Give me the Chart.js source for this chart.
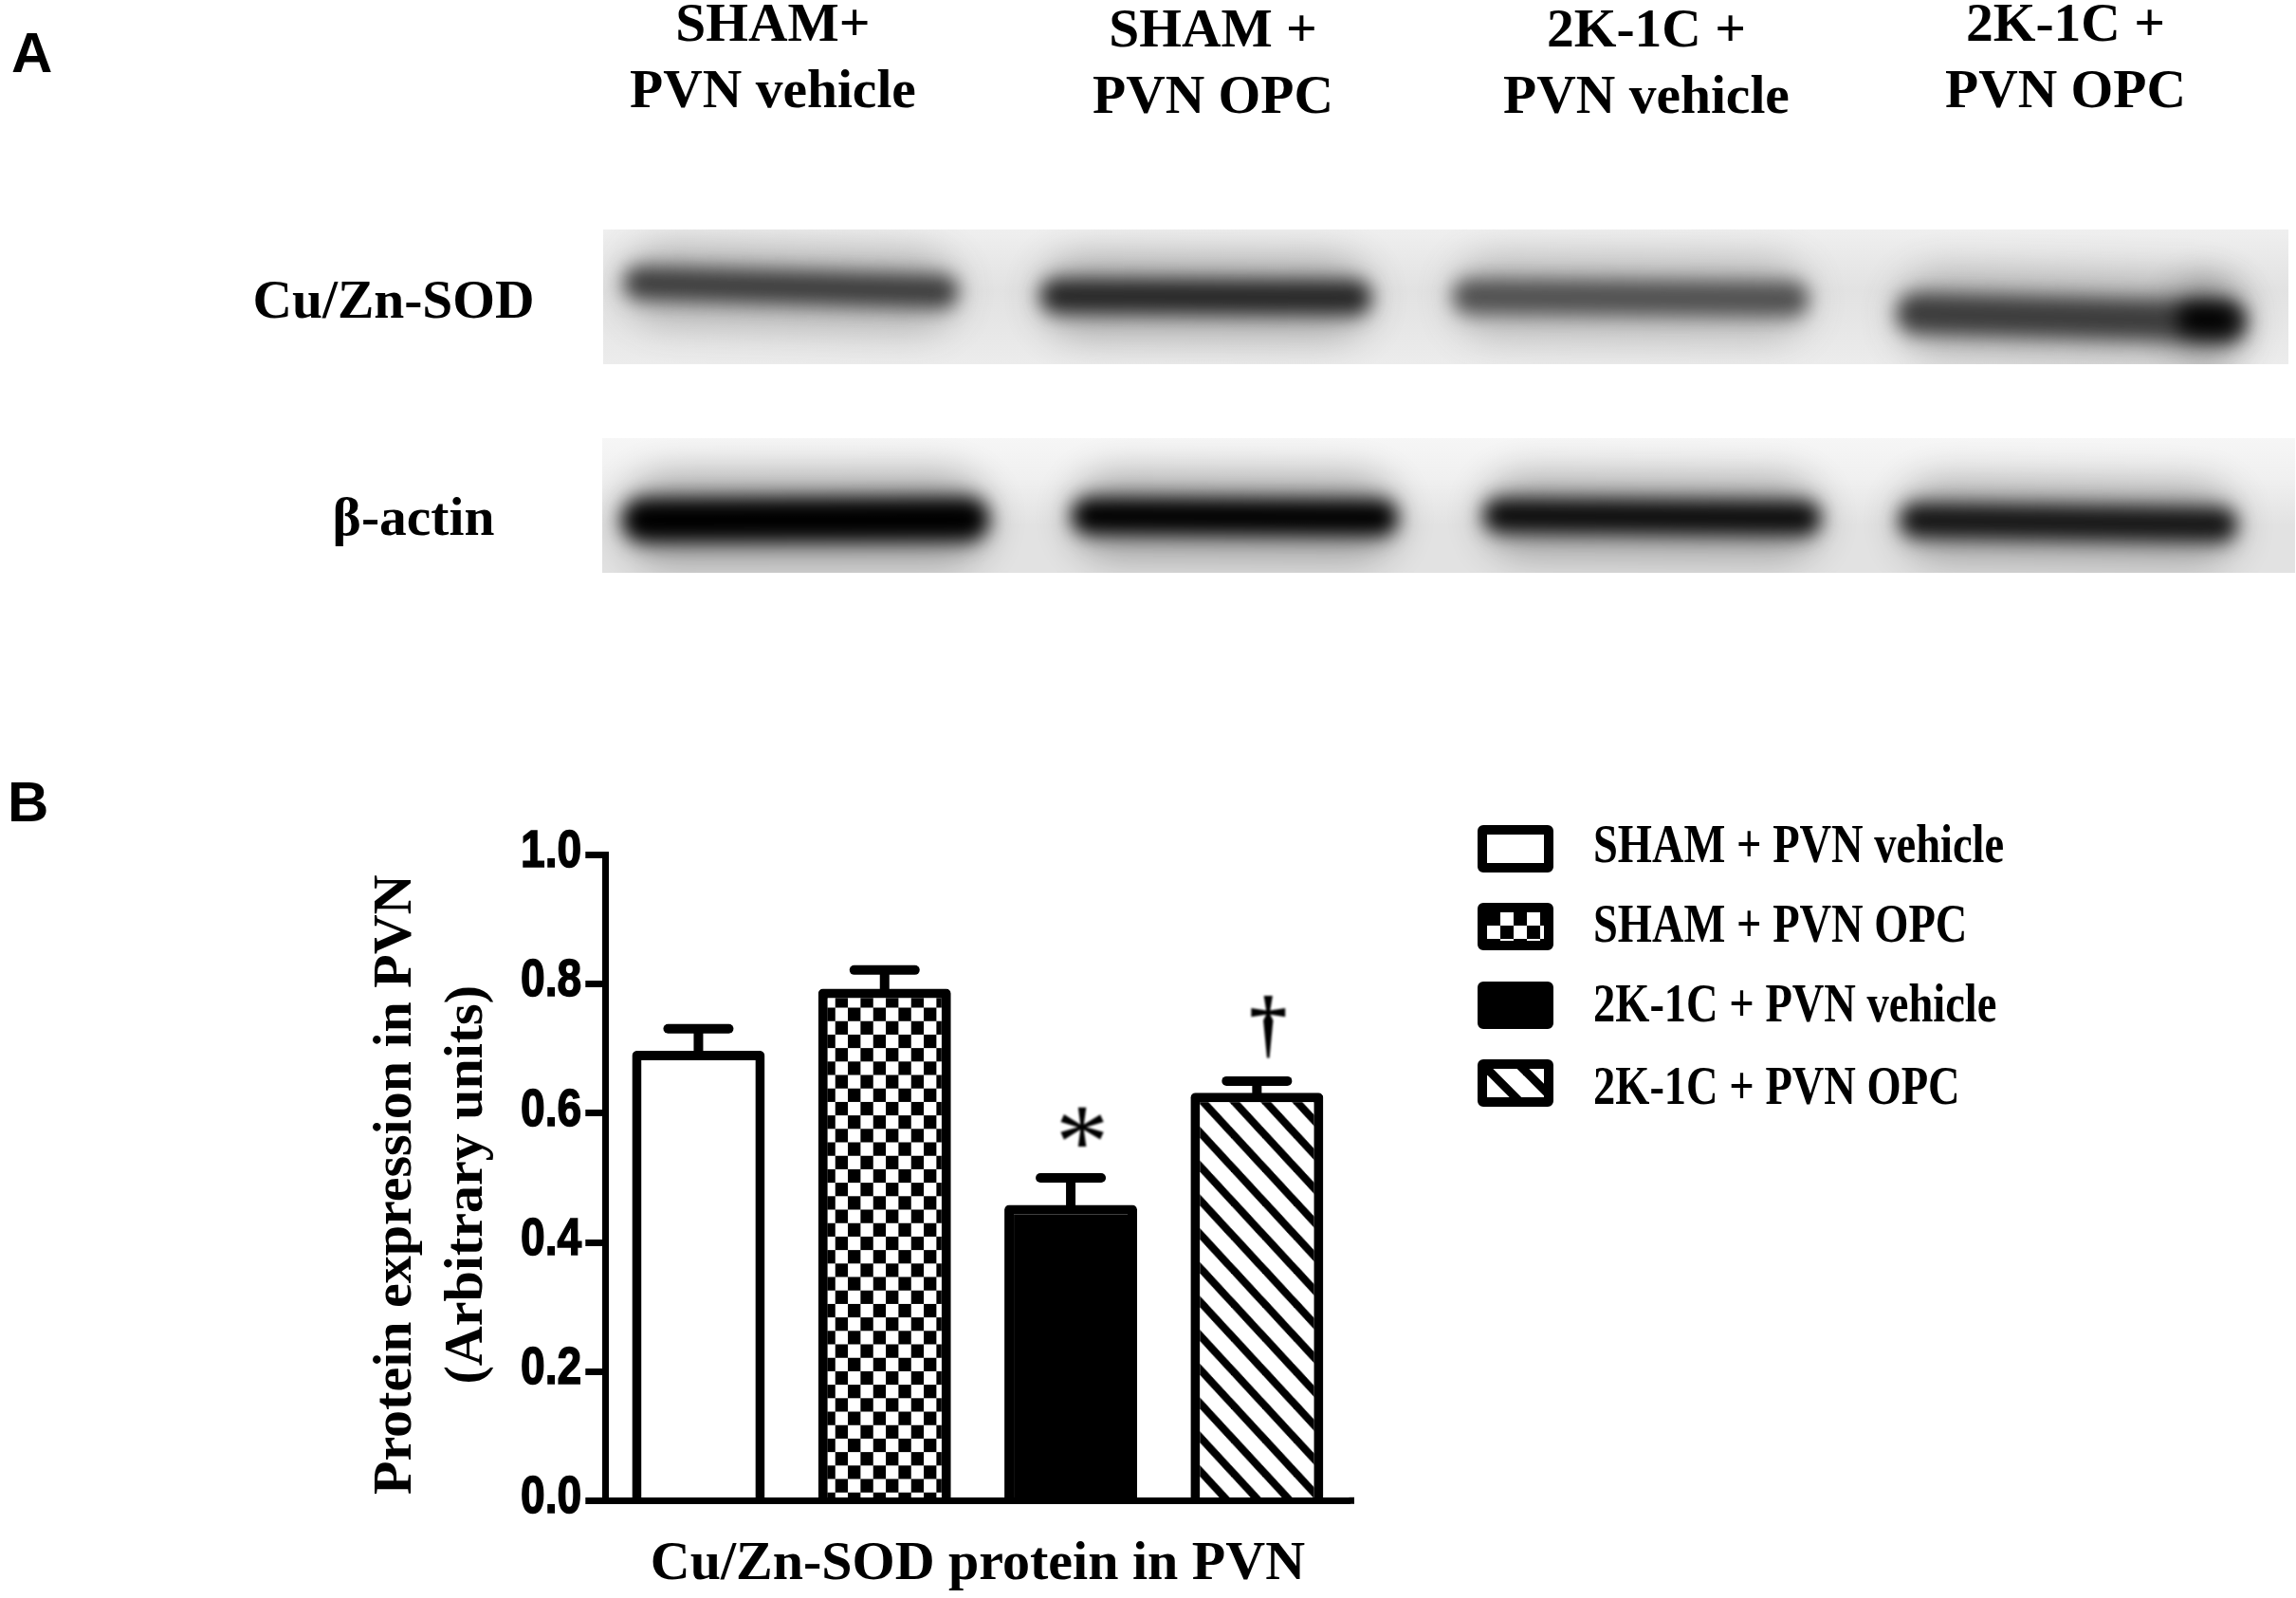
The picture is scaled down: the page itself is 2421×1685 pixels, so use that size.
<!DOCTYPE html>
<html>
<head>
<meta charset="utf-8">
<title>Cu/Zn-SOD protein in PVN</title>
<script src="https://cdn.jsdelivr.net/npm/chart.js@4"></script>
<style>
html,body{margin:0;padding:0;background:#fff;}
#page{position:relative;width:2421px;height:1685px;overflow:hidden;}
#bars{position:absolute;left:0;top:0;}
.txt{position:absolute;white-space:nowrap;color:#000;font:bold 57.5px "Liberation Serif",serif;line-height:1;}
.panel{font:bold 60px "Liberation Sans",sans-serif;line-height:1;}
.mid{transform:translate(-50%,-50%);}
.blot{position:absolute;overflow:hidden;}
.band{position:absolute;border-radius:999px;}
.swatch{position:absolute;box-sizing:border-box;width:80px;height:50px;border:10px solid #000;border-radius:6px;background-color:#fff;}
.leg{font-size:56px;transform:translateY(-50%) scaleX(.83);transform-origin:left center;}
</style>
</head>
<body>
<div id="page">
  <canvas id="bars" width="2421" height="1685"></canvas>
</div>
<script>
/* ===== DATA ===== */
const groups=['SHAM + PVN vehicle','SHAM + PVN OPC','2K-1C + PVN vehicle','2K-1C + PVN OPC'];
const means=[0.697,0.793,0.458,0.632];
const errorTops=[0.731,0.822,0.500,0.650];
const markText=['','','*','†'];
const markValues=[null,null,0.58,0.734];
const yTicks=[0,0.2,0.4,0.6,0.8,1.0];
const laneHeads=[['SHAM+','PVN vehicle'],['SHAM +','PVN OPC'],['2K-1C +','PVN vehicle'],['2K-1C +','PVN OPC']];

/* ===== PATTERNS ===== */
function checkerTile(){
  const c=document.createElement('canvas');c.width=c.height=28;
  const x=c.getContext('2d');
  x.fillStyle='#fff';x.fillRect(0,0,28,28);
  x.fillStyle='#000';x.fillRect(0,0,14,14);x.fillRect(14,14,14,14);
  return c;
}
function hatchTile(){
  const c=document.createElement('canvas');c.width=c.height=38;
  const x=c.getContext('2d');
  x.fillStyle='#fff';x.fillRect(0,0,38,38);
  x.strokeStyle='#000';x.lineWidth=9;
  [-38,0,38].forEach(o=>{x.beginPath();x.moveTo(o-4,-4);x.lineTo(o+42,42);x.stroke();});
  return c;
}
const ctx=document.getElementById('bars').getContext('2d');
const tiles=[null,checkerTile(),null,hatchTile()];
const checkerFill=ctx.createPattern(tiles[1],'repeat');
checkerFill.setTransform(new DOMMatrix().translate(880.7,1076.7).scale(26.67/28,28.4/28));
const hatchFill=ctx.createPattern(tiles[3],'repeat');
hatchFill.setTransform(new DOMMatrix().translate(1265,1515).scale(33/38,35.7/38));
const fills=['#fff',checkerFill,'#000',hatchFill];

/* ===== EXTRAS DRAWN ON THE CHART ===== */
const extras={
  id:'extras',
  beforeDatasetsDraw(chart){
    const {x,y}=chart.scales,c=chart.ctx;
    c.save();
    c.strokeStyle='#000';
    errorTops.forEach((v,i)=>{
      const px=x.getPixelForValue(i),top=y.getPixelForValue(v),base=y.getPixelForValue(means[i]);
      c.lineWidth=10;c.lineCap='butt';
      c.beginPath();c.moveTo(px,base+6);c.lineTo(px,top);c.stroke();
      c.lineCap='round';
      c.beginPath();c.moveTo(px-32,top);c.lineTo(px+32,top);c.stroke();
    });
    c.restore();
  },
  afterDraw(chart){
    const {x,y}=chart.scales,c=chart.ctx,area=chart.chartArea;
    c.save();
    c.fillStyle='#000';c.strokeStyle='#000';
    // baseline runs a little past the last category
    c.fillRect(area.right-1,area.bottom-3.5,5.5,7);
    // condensed tick labels
    c.font='bold 55px "Liberation Sans"';
    c.textAlign='right';c.textBaseline='middle';c.lineWidth=1.5;
    y.ticks.forEach(t=>{
      c.save();
      c.translate(y.right-25,y.getPixelForValue(t.value)-2.5);
      c.scale(.84,1);
      c.fillText(t.value.toFixed(1),0,0);
      c.strokeText(t.value.toFixed(1),0,0);
      c.restore();
    });
    // significance marks
    c.textAlign='center';c.textBaseline='alphabetic';
    c.filter='blur(1px)';
    markText.forEach((t,i)=>{
      if(!t)return;
      c.font=t==='*'?'normal 112px "Liberation Serif"':'bold 80px "Liberation Serif"';
      const m=c.measureText(t);
      c.fillText(t,x.getPixelForValue(i)+12,y.getPixelForValue(markValues[i])+(m.actualBoundingBoxAscent-m.actualBoundingBoxDescent)/2);
    });
    c.restore();
  }
};

/* ===== CHART ===== */
new Chart(ctx,{
  type:'bar',
  data:{labels:groups,datasets:[{
    data:means,
    backgroundColor:fills,
    borderColor:'#000',
    borderWidth:10,
    borderSkipped:'bottom',
    borderRadius:{topLeft:5,topRight:5,bottomLeft:0,bottomRight:0},
    categoryPercentage:1,
    barPercentage:0.713
  }]},
  options:{
    responsive:false,animation:false,devicePixelRatio:1,
    layout:{padding:{left:380,right:997.5,top:901.7,bottom:0}},
    plugins:{legend:{display:false},tooltip:{enabled:false}},
    scales:{
      x:{
        offset:true,
        afterFit:s=>{s.height=102.7;},
        grid:{display:false},
        border:{color:'#000',width:7,z:1},
        ticks:{display:false},
        title:{display:true,text:'Cu/Zn-SOD protein in PVN',color:'#000',padding:0,
          font:{family:'"Liberation Serif"',size:58,weight:'bold'}}
      },
      y:{
        min:0,max:1,
        afterFit:s=>{s.width=258.3;},
        afterBuildTicks:s=>{s.ticks=yTicks.map(value=>({value}));},
        grid:{drawOnChartArea:false,drawTicks:true,tickLength:21,tickWidth:7,tickColor:'#000'},
        border:{color:'#000',width:7,z:1},
        ticks:{display:false},
        title:{display:true,text:['Protein expression in PVN ','(Arbitrary units) '],color:'#000',padding:0,
          font:{family:'"Liberation Serif"',size:58,weight:'bold',lineHeight:1.3}}
      }
    }
  },
  plugins:[extras]
});

/* ===== PAGE TEXT, LEGEND, BLOTS ===== */
const page=document.getElementById('page');
function addText(str,cls,x,y){
  const d=document.createElement('div');
  d.className='txt '+cls;d.textContent=str;
  d.style.left=x+'px';d.style.top=y+'px';
  page.appendChild(d);
}
addText('A','panel',12,26);
addText('B','panel',8,816);

const headX=[815,1279,1736,2178],headY=[[24,94],[30,100],[30,100],[24,94]];
laneHeads.forEach((rows,i)=>rows.forEach((t,j)=>addText(t,'mid',headX[i],headY[i][j])));
addText('Cu/Zn-SOD','mid',415,316);
addText('β-actin','mid',436,545);

const legendY=[870,952,1035,1117],legendTextY=[890,974,1058,1145];
groups.forEach((g,i)=>{
  const s=document.createElement('div');
  s.className='swatch';
  s.style.left='1558px';s.style.top=legendY[i]+'px';
  if(i===2)s.style.backgroundColor='#000';
  if(tiles[i])s.style.backgroundImage='url('+tiles[i].toDataURL()+')';
  page.appendChild(s);
  addText(g,'leg',1680,legendTextY[i]);
});

// western blot strips: blurred dark smears, not chart data
// each smear: x0, x1, y at x0, y at x1, thickness, grey level
const blots=[
  {x:636,y:242,w:1777,h:142,bg:'linear-gradient(#efefef,#e2e2e2 45%,#e6e6e6 70%,#ececec)',smears:[
    [658,1010,298,308,34,'#3c3c3c'],[1097,1446,312,314,36,'#262626'],[1532,1907,312,315,36,'#505050'],
    [2000,2369,330,340,42,'#3c3c3c'],[2295,2360,336,338,32,'#000']]},
  {x:635,y:462,w:1785,h:142,bg:'linear-gradient(#f6f6f6,#f0f0f0 30%,#e2e2e2 65%,#e2e2e2)',smears:[
    [656,1043,548,547,46,'#000'],[1130,1474,544,546,38,'#000'],[1564,1920,543,546,36,'#0c0c0c'],
    [2003,2359,548,553,36,'#141414']]}
];
function addSmear(parent,b,s,extra,opacity,blur){
  const [x0,x1,y0,y1,thick,grey]=s;
  const w=x1-x0,h=thick+extra,d=document.createElement('div');
  d.className='band';
  d.style.cssText=`left:${x0-b.x}px;top:${(y0+y1)/2-h/2-b.y}px;width:${w}px;height:${h}px;background:${grey};`+
    `transform:rotate(${Math.atan2(y1-y0,w)}rad);opacity:${opacity};filter:blur(${blur}px)`;
  parent.appendChild(d);
}
blots.forEach(b=>{
  const el=document.createElement('div');
  el.className='blot';
  el.style.cssText=`left:${b.x}px;top:${b.y}px;width:${b.w}px;height:${b.h}px;background:${b.bg}`;
  b.smears.forEach(s=>addSmear(el,b,s,50,.3,20));
  b.smears.forEach(s=>addSmear(el,b,s,0,1,10));
  page.appendChild(el);
});
</script>
</body>
</html>
